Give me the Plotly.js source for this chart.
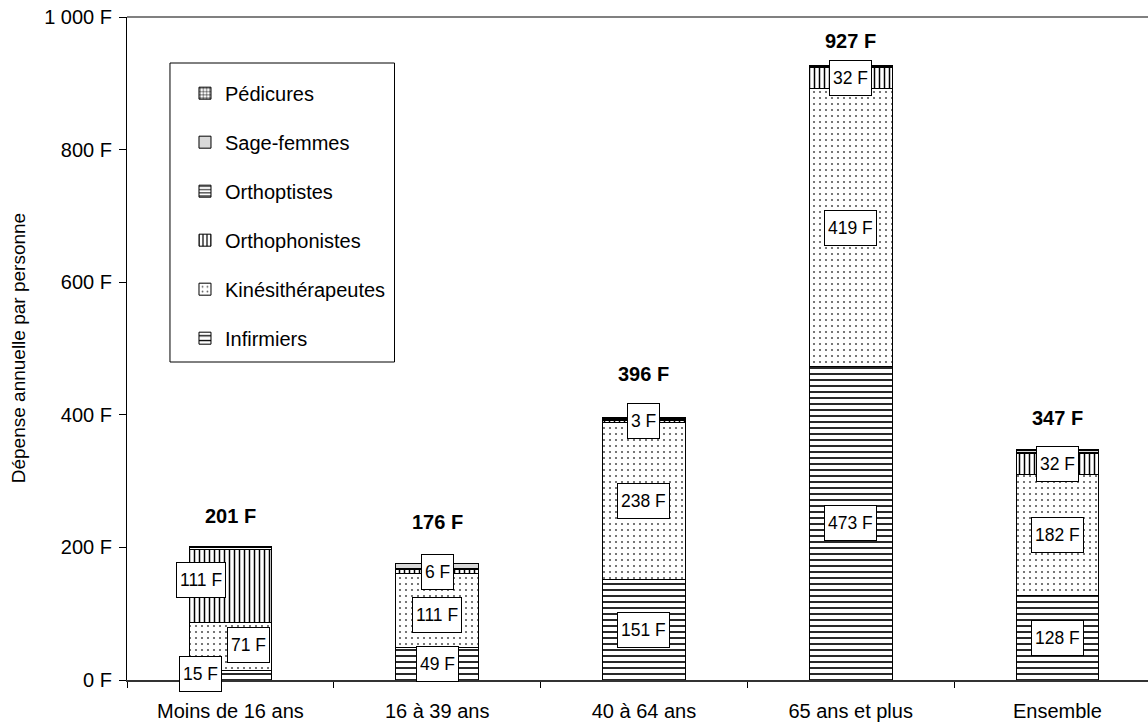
<!DOCTYPE html>
<html>
<head>
<meta charset="utf-8">
<script src="https://cdn.plot.ly/plotly-3.0.1.min.js"></script>
<style>html,body{margin:0;padding:0;background:#fff;}#chart{width:1148px;height:724px;}</style>
</head>
<body>
<div id="chart"></div>
<script>
// ---- data ----
const categories = ["Moins de 16 ans", "16 à 39 ans", "40 à 64 ans", "65 ans et plus", "Ensemble"];
const infirmiers = [15, 49, 151, 473, 128];
const kinesitherapeutes = [71, 111, 238, 419, 182];
const orthophonistes = [111, 6, 3, 32, 32];
const orthoptistes = [3, 2, 1, 1, 1];
const sageFemmes = [0, 7, 2, 0, 3];
const pedicures = [1, 1, 1, 2, 1];
const totals = [201, 176, 396, 927, 347];
const yTickValues = [0, 200, 400, 600, 800, 1000];
const yTickLabels = ["0 F", "200 F", "400 F", "600 F", "800 F", "1 000 F"];

// ---- styles ----
const FONT = "Liberation Sans, Arial, sans-serif";
const series = [
  {name: "Infirmiers", y: infirmiers, pattern: {shape: "-", size: 6, solidity: 0.28, fgcolor: "#000", bgcolor: "#fff"}, label: true},
  {name: "Kinésithérapeutes", y: kinesitherapeutes, pattern: {shape: ".", size: 6, solidity: 0.1, fgcolor: "#555", bgcolor: "#fff"}, label: true},
  {name: "Orthophonistes", y: orthophonistes, pattern: {shape: "|", size: 5, solidity: 0.3, fgcolor: "#000", bgcolor: "#fff"}, label: true},
  {name: "Orthoptistes", y: orthoptistes, pattern: {shape: "-", size: 4, solidity: 0.3, fgcolor: "#000", bgcolor: "#fff"}, label: false},
  {name: "Sage-femmes", y: sageFemmes, pattern: {shape: "", fgcolor: "#000", bgcolor: "#d9d9d9"}, color: "#d9d9d9", label: false},
  {name: "Pédicures", y: pedicures, pattern: {shape: "+", size: 4, solidity: 0.3, fgcolor: "#000", bgcolor: "#fff"}, label: false}
];
// manual offsets (px) of the boxed value labels, [series][category]
const labelShiftX = {"Infirmiers": [-30, 0, 0, 0, 0], "Kinésithérapeutes": [18, 0, 0, 0, 0], "Orthophonistes": [-29, 0, 0, 0, 0]};
const labelShiftY = {"Infirmiers": [1, 0, 0, 0, 0], "Kinésithérapeutes": [2, -4, 0, 0, 0], "Orthophonistes": [6, 0, 0, 0, 0]};
const totalShift = [31, 41, 43, 24, 32];

const traces = series.map((s, i) => ({
  type: "bar",
  name: s.name,
  x: categories,
  y: s.y,
  width: 0.4,
  legendgroup: "g" + i,
  legendrank: 100 - i,
  marker: {color: s.color || "#fff", line: {color: "#000", width: 1}, pattern: s.pattern},
  hoverinfo: "skip"
}));

const annotations = [];
const base = categories.map(() => 0);
series.forEach(s => {
  s.y.forEach((v, j) => {
    if (s.label) {
      annotations.push({
        x: categories[j], y: base[j] + v / 2, xref: "x", yref: "y",
        text: v + " F", showarrow: false,
        font: {family: FONT, size: 17.5, color: "#000"},
        bgcolor: "#fff", bordercolor: "#000", borderwidth: 1, borderpad: 3, height: 28,
        xshift: labelShiftX[s.name][j], yshift: labelShiftY[s.name][j]
      });
    }
    base[j] += v;
  });
});
totals.forEach((t, j) => {
  annotations.push({
    x: categories[j], y: t, xref: "x", yref: "y", text: "<b>" + t + " F</b>",
    showarrow: false, yanchor: "middle", yshift: totalShift[j],
    font: {family: FONT, size: 20, color: "#000"}
  });
});
annotations.push({
  xref: "paper", yref: "paper", x: -0.106, y: 0.5, xanchor: "center", yanchor: "middle",
  textangle: -90, showarrow: false,
  text: "Dépense annuelle par personne", font: {family: FONT, size: 19, color: "#000"}
});

const layout = {
  width: 1148, height: 724,
  margin: {l: 127, r: 0, t: 17, b: 44},
  paper_bgcolor: "#fff", plot_bgcolor: "#fff",
  barmode: "stack",
  showlegend: true,
  font: {family: FONT, size: 20, color: "#000"},
  legend: {
    x: 0.0568, y: 0.9145, xanchor: "left", yanchor: "top",
    traceorder: "grouped", tracegroupgap: 20,
    bgcolor: "rgba(0,0,0,0)", borderwidth: 0,
    font: {family: FONT, size: 20, color: "#000"}
  },
  xaxis: {
    type: "category", range: [-0.5, 4.438], tickson: "boundaries",
    showline: true, linecolor: "#333", linewidth: 1.5,
    ticks: "outside", ticklen: 6, tickcolor: "#000", ticklabelstandoff: 12,
    showgrid: false, zeroline: false, fixedrange: true,
    tickfont: {family: FONT, size: 20, color: "#000"}
  },
  yaxis: {
    range: [0, 1000], tickvals: yTickValues, ticktext: yTickLabels,
    showline: true, linecolor: "#000", linewidth: 1,
    ticks: "outside", ticklen: 7, tickcolor: "#000", ticklabelstandoff: 3,
    showgrid: false, zeroline: false, fixedrange: true,
    tickfont: {family: FONT, size: 20, color: "#000"}
  },
  shapes: [
    {type: "line", xref: "paper", yref: "paper", x0: 0, x1: 1.05, y0: 1, y1: 1, line: {color: "#808080", width: 2}},
    {type: "rect", xref: "paper", yref: "paper", x0: 0.0421, x1: 0.262, y0: 1 - (63 - 17) / 663, y1: 1 - (362 - 17) / 663, line: {color: "#000", width: 1}, fillcolor: "rgba(0,0,0,0)"}
  ],
  annotations: annotations
};

Plotly.newPlot("chart", traces, layout, {displayModeBar: false, staticPlot: true});
</script>
</body>
</html>
